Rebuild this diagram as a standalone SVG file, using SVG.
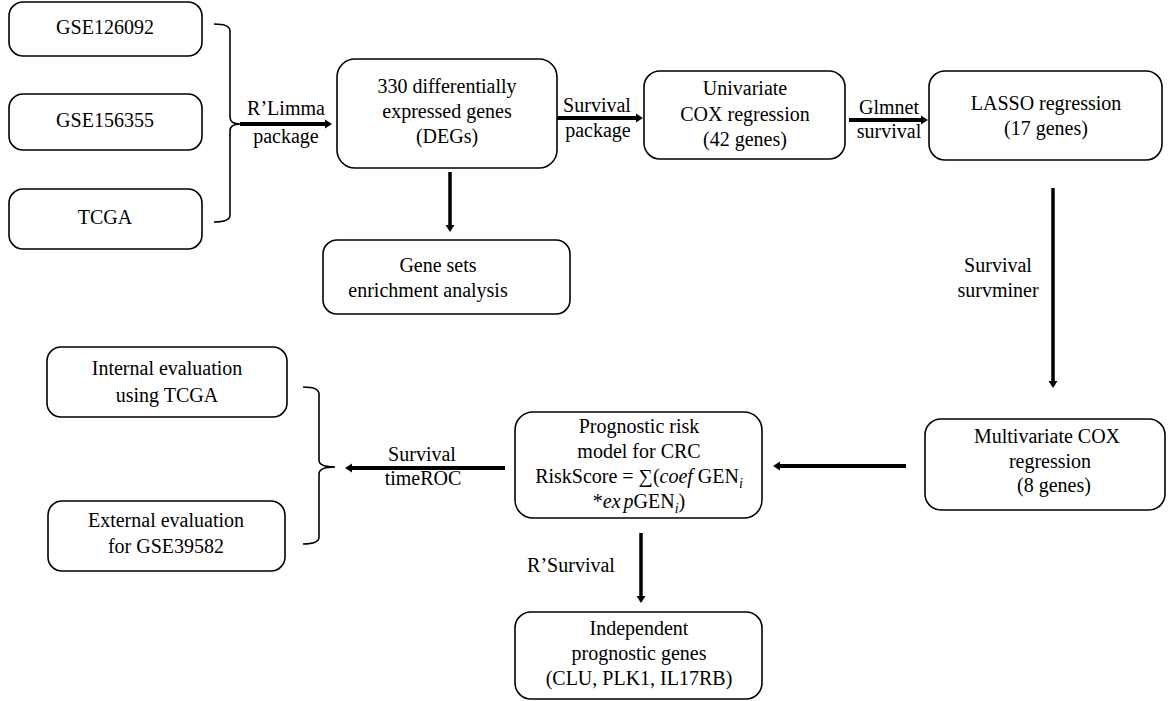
<svg xmlns="http://www.w3.org/2000/svg" width="1169" height="701" viewBox="0 0 1169 701">
<defs>
<style>
.box{fill:#fff;stroke:#000;stroke-width:1.6}
.t{font-family:"Times New Roman","Liberation Serif","DejaVu Serif",serif;font-size:20px;fill:#000;text-anchor:middle}
.br{fill:none;stroke:#000;stroke-width:1.6}
.ah{fill:none;stroke:#000;stroke-width:4}
.av{fill:none;stroke:#000;stroke-width:3.5}
</style>
<marker id="arr" markerUnits="userSpaceOnUse" markerWidth="8" markerHeight="10" refX="0" refY="5" orient="auto">
<path d="M0,0.5 L7,5 L0,9.5 z" fill="#000"/>
</marker>
</defs>
<rect width="1169" height="701" fill="#fff"/>
<g id="n-gse126092"><rect class="box" x="9" y="2" width="193" height="54" rx="14"/><text class="t" x="105" y="34">GSE126092</text></g>
<g id="n-gse156355"><rect class="box" x="9" y="94" width="193" height="56" rx="14"/><text class="t" x="105" y="127">GSE156355</text></g>
<g id="n-tcga"><rect class="box" x="9" y="189" width="193" height="60" rx="14"/><text class="t" x="105" y="224">TCGA</text></g>

<g id="n-degs"><rect class="box" x="337" y="59" width="220" height="109" rx="18"/>
<text class="t" x="447" y="93">330 differentially</text>
<text class="t" x="447" y="118">expressed genes</text>
<text class="t" x="447" y="143">(DEGs)</text></g>

<g id="n-univariate"><rect class="box" x="644" y="71" width="201" height="88" rx="16"/>
<text class="t" x="745" y="95">Univariate</text>
<text class="t" x="745" y="121">COX regression</text>
<text class="t" x="745" y="146">(42 genes)</text></g>

<g id="n-lasso"><rect class="box" x="929" y="71" width="233" height="89" rx="16"/>
<text class="t" x="1046" y="110">LASSO regression</text>
<text class="t" x="1046" y="135">(17 genes)</text></g>

<g id="n-genesets"><rect class="box" x="323" y="240" width="247" height="74" rx="14"/>
<text class="t" x="438" y="272">Gene sets</text>
<text class="t" x="428" y="297">enrichment analysis</text></g>

<g id="n-multivariate"><rect class="box" x="925" y="419" width="240" height="91" rx="16"/>
<text class="t" x="1047" y="443">Multivariate COX</text>
<text class="t" x="1050" y="468">regression</text>
<text class="t" x="1054" y="492">(8 genes)</text></g>

<g id="n-prognostic"><rect class="box" x="515" y="412" width="247" height="106" rx="18"/>
<text class="t" x="639" y="433">Prognostic risk</text>
<text class="t" x="639" y="458">model for CRC</text>
<text class="t" x="639" y="483">RiskScore = ∑(<tspan font-style="italic">coef</tspan> GEN<tspan font-size="14" dy="5" font-style="italic">i</tspan></text>
<text class="t" x="639" y="508">*<tspan font-style="italic">ex</tspan><tspan font-style="italic" dx="3">p</tspan>GEN<tspan font-size="14" dy="5" font-style="italic">i</tspan><tspan dy="-5">)</tspan></text></g>

<g id="n-internal"><rect class="box" x="47" y="347" width="240" height="70" rx="14"/>
<text class="t" x="167" y="375">Internal evaluation</text>
<text class="t" x="167" y="402">using TCGA</text></g>

<g id="n-external"><rect class="box" x="48" y="501" width="237" height="70" rx="14"/>
<text class="t" x="166" y="527">External evaluation</text>
<text class="t" x="166" y="553">for GSE39582</text></g>

<g id="n-independent"><rect class="box" x="515" y="612" width="247" height="87" rx="16"/>
<text class="t" x="639" y="635">Independent</text>
<text class="t" x="639" y="660">prognostic genes</text>
<text class="t" x="639" y="685">(CLU, PLK1, IL17RB)</text></g>

<g id="connectors">
<path class="br" d="M214,24 Q230,24 230,31 V117 Q230,124 240,124 Q230,124 230,131 V215 Q230,222 214,222"/>
<path class="br" d="M303,387 Q319,387 319,394 V460 Q319,467 335,467 Q319,467 319,474 V537 Q319,544 303,544"/>
<path class="ah" d="M240,124 H325" marker-end="url(#arr)"/>
<path class="ah" d="M557,118 H636" marker-end="url(#arr)"/>
<path class="ah" d="M849,120 H921" marker-end="url(#arr)"/>
<path class="av" d="M450,172 V225" marker-end="url(#arr)"/>
<path class="av" d="M1053,188 V381" marker-end="url(#arr)"/>
<path class="ah" d="M906,466 H780" marker-end="url(#arr)"/>
<path class="ah" d="M505,468 H352" marker-end="url(#arr)"/>
<path class="av" d="M641,533 V596" marker-end="url(#arr)"/>
<text class="t" x="286" y="115">R’Limma</text>
<text class="t" x="286" y="143">package</text>
<text class="t" x="597" y="112">Survival</text>
<text class="t" x="598" y="137">package</text>
<text class="t" x="889" y="114">Glmnet</text>
<text class="t" x="889" y="138">survival</text>
<text class="t" x="998" y="272">Survival</text>
<text class="t" x="998" y="297">survminer</text>
<text class="t" x="422" y="461">Survival</text>
<text class="t" x="423" y="485">timeROC</text>
<text class="t" x="571" y="572">R’Survival</text>
</g>
</svg>
